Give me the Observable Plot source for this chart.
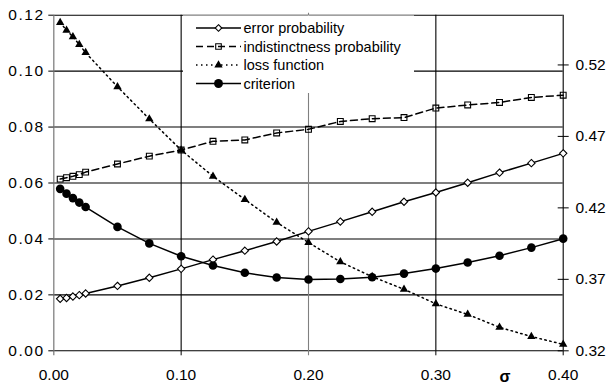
<!DOCTYPE html>
<html>
<head>
<meta charset="utf-8">
<script src="https://cdn.jsdelivr.net/npm/d3@7"></script>
<script src="https://cdn.jsdelivr.net/npm/@observablehq/plot@0.6"></script>
<style>
  html, body { margin: 0; padding: 0; background: white; }
</style>
</head>
<body>
<div id="chart"></div>
<script>
// ---- data ----
const sigma = [0.005, 0.01, 0.015, 0.02, 0.025, 0.05, 0.075, 0.1, 0.125, 0.15, 0.175, 0.2, 0.225, 0.25, 0.275, 0.3, 0.325, 0.35, 0.375, 0.4];
const errorProbability = [0.0186, 0.0189, 0.0194, 0.0199, 0.0205, 0.0232, 0.0261, 0.0293, 0.0326, 0.0358, 0.0391, 0.0427, 0.0462, 0.0497, 0.0533, 0.0566, 0.0601, 0.0637, 0.0671, 0.0706];
const indistinctnessProbability = [0.0614, 0.0619, 0.0624, 0.0630, 0.0639, 0.0668, 0.0696, 0.0718, 0.0749, 0.0754, 0.0779, 0.0792, 0.0820, 0.0830, 0.0834, 0.0868, 0.0879, 0.0888, 0.0906, 0.0914];
const lossFunction = [0.1174, 0.1146, 0.1123, 0.1095, 0.1066, 0.0944, 0.0829, 0.0718, 0.0624, 0.0541, 0.0459, 0.0387, 0.0318, 0.0265, 0.0220, 0.0168, 0.0130, 0.0084, 0.0051, 0.0023];
const criterion = [0.0579, 0.0562, 0.0546, 0.0530, 0.0514, 0.0443, 0.0384, 0.0338, 0.0305, 0.0279, 0.0262, 0.0255, 0.0257, 0.0263, 0.0276, 0.0294, 0.0316, 0.0340, 0.0369, 0.0401];

const seriesNames = ["error probability", "indistinctness probability", "loss function", "criterion"];
const xTicks = [0, 0.1, 0.2, 0.3, 0.4];
const leftTicks = [0, 0.02, 0.04, 0.06, 0.08, 0.10, 0.12];
const rightTicks = [0.32, 0.37, 0.42, 0.47, 0.52];
const rightDomain = [0.32, 0.5548];
const leftDomain = [0, 0.12];

// ---- derived ----
const toLeft = r => (r - rightDomain[0]) / (rightDomain[1] - rightDomain[0]) * leftDomain[1];
const fromLeft = v => rightDomain[0] + v / leftDomain[1] * (rightDomain[1] - rightDomain[0]);
const data = sigma.map((s, i) => ({
  s, e: errorProbability[i], d: indistinctnessProbability[i], l: lossFunction[i], c: criterion[i]
}));
const fmt = d => d.toFixed(2);
const blank = () => "";
const GRAY = "#808080";
const LW = 1.5;

const chart = Plot.plot({
  width: 607,
  height: 386,
  marginLeft: 53.3,
  marginRight: 44.3,
  marginTop: 14.7,
  marginBottom: 35.7,
  x: { domain: [0, 0.4] },
  y: { domain: leftDomain },
  style: { fontFamily: "'Liberation Sans', Arial, sans-serif", fontSize: "15.5px", background: "white", color: "black", overflow: "visible" },
  marks: [
    Plot.gridY(leftTicks, { stroke: "black", strokeOpacity: 1, strokeWidth: 1.1 }),
    Plot.ruleX([0.1, 0.3, 0.4], { stroke: "black", strokeWidth: 1.1 }),
    Plot.ruleX([0.2], { stroke: GRAY, strokeWidth: 1.1, insetTop: -2, insetBottom: -5 }),
    Plot.ruleX([0], { stroke: GRAY, strokeWidth: 1.3, insetBottom: -5 }),
    Plot.axisY(leftTicks, { anchor: "left", tickSize: 5, tickPadding: 4, tickFormat: fmt, label: null }),
    Plot.axisX([0.1, 0.3, 0.4], { anchor: "bottom", tickSize: 5, tickFormat: blank, label: null }),
    Plot.axisX(xTicks, { anchor: "bottom", tickSize: 0, tickPadding: 18, tickFormat: fmt, label: null }),
    Plot.axisY(rightTicks.map(toLeft), { anchor: "right", tickSize: 11, dx: -6, tickFormat: blank, label: null }),
    Plot.axisY(rightTicks.map(toLeft), { anchor: "right", tickSize: 0, tickPadding: 12.3, tickFormat: d => fromLeft(d).toFixed(2), label: null }),

    // error probability
    Plot.line(data, { x: "s", y: "e", stroke: "black", strokeWidth: LW }),
    Plot.dot(data, { x: "s", y: "e", symbol: "diamond2", r: 3.3, fill: "white", stroke: "black", strokeWidth: 1.1 }),
    // indistinctness probability
    Plot.line(data, { x: "s", y: "d", stroke: "black", strokeWidth: LW, strokeDasharray: "7,4" }),
    Plot.dot(data, { x: "s", y: "d", symbol: "square2", r: 3.7, fill: "none", stroke: "black", strokeWidth: 1.1 }),
    // loss function
    Plot.line(data, { x: "s", y: "l", stroke: "black", strokeWidth: LW, strokeDasharray: "1.5,3.5" }),
    Plot.dot(data, { x: "s", y: "l", symbol: "triangle", r: 3.1, fill: "black", stroke: "none" }),
    // criterion
    Plot.line(data, { x: "s", y: "c", stroke: "black", strokeWidth: LW }),
    Plot.dot(data, { x: "s", y: "c", symbol: "circle", r: 4.3, fill: "black", stroke: "none" })
  ]
});

document.getElementById("chart").appendChild(chart);

// wider spacing on the left tick labels, as in the reference
const svg = d3.select(chart);
const yLabelGroups = svg.selectAll("g[aria-label='y-axis tick label']").nodes();
if (yLabelGroups.length) d3.select(yLabelGroups[0]).selectAll("text").attr("letter-spacing", "1.6px");

// legend
const leg = svg.append("g")
  .attr("font-family", "'Liberation Sans', Arial, sans-serif")
  .attr("font-size", "14.5px")
  .attr("text-anchor", "start");
leg.append("rect").attr("x", 183).attr("y", 15.5).attr("width", 231).attr("height", 77.5)
  .attr("fill", "white").attr("stroke", "none");
const legendStyles = [
  { dash: null, symbol: d3.symbolDiamond2, size: 28, fill: "white", stroke: "black" },
  { dash: "7,4", symbol: d3.symbolSquare2, size: 40, fill: "none", stroke: "black" },
  { dash: "1.5,3.5", symbol: d3.symbolTriangle, size: 30, fill: "black", stroke: "none" },
  { dash: null, symbol: d3.symbolCircle, size: 62, fill: "black", stroke: "none" }
];
const rowY = [28, 46.5, 65, 83.5];
seriesNames.forEach((name, i) => {
  const st = legendStyles[i];
  const g = leg.append("g");
  g.append("line").attr("x1", 196).attr("x2", 241).attr("y1", rowY[i]).attr("y2", rowY[i])
    .attr("stroke", "black").attr("stroke-width", LW).attr("stroke-dasharray", st.dash);
  g.append("path").attr("d", d3.symbol(st.symbol, st.size)())
    .attr("transform", `translate(218.5,${rowY[i]})`)
    .attr("fill", st.fill).attr("stroke", st.stroke).attr("stroke-width", 1.1);
  g.append("text").attr("x", 243.5).attr("y", rowY[i]).attr("dy", "0.35em")
    .attr("text-anchor", "start").attr("fill", "black").text(name);
});

// x axis label
svg.append("text").attr("x", 505).attr("y", 382).attr("text-anchor", "middle")
  .attr("font-family", "'Liberation Sans', Arial, sans-serif").attr("font-size", "16px").attr("font-weight", "bold")
  .attr("fill", "black").text("σ");
</script>
</body>
</html>
